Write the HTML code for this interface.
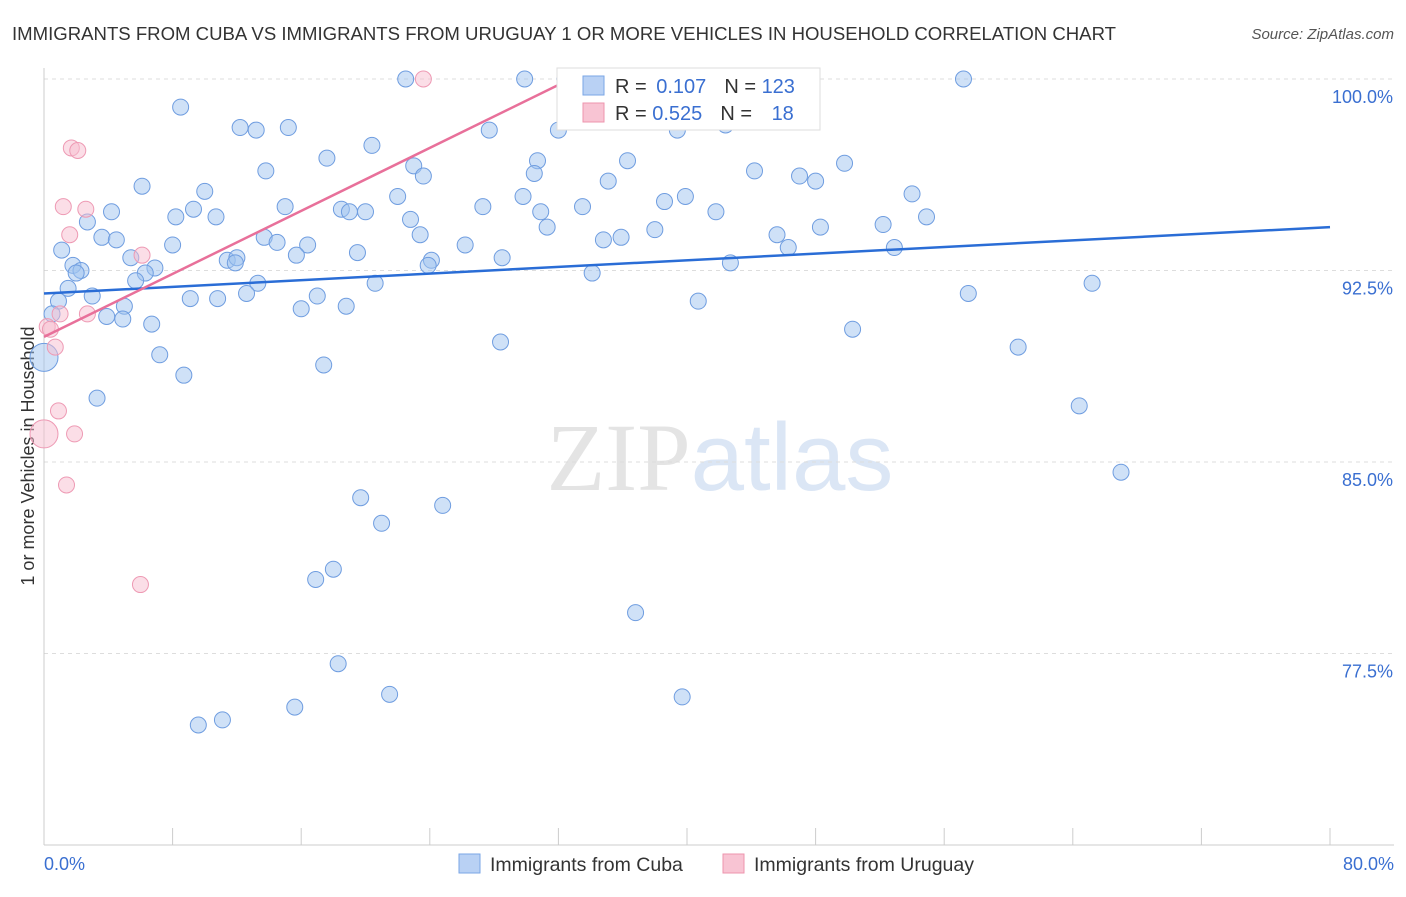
<!DOCTYPE html>
<html><head><meta charset="utf-8">
<style>
body{margin:0;background:#fff;font-family:"Liberation Sans",sans-serif;}
svg text{font-family:"Liberation Sans",sans-serif;}
</style></head>
<body>
<svg id="chart" width="1406" height="892" xmlns="http://www.w3.org/2000/svg">
<text x="12" y="40" font-size="18" fill="#333" textLength="1104" lengthAdjust="spacingAndGlyphs">IMMIGRANTS FROM CUBA VS IMMIGRANTS FROM URUGUAY 1 OR MORE VEHICLES IN HOUSEHOLD CORRELATION CHART</text>
<text x="1394" y="39" font-size="15" fill="#555" text-anchor="end" font-style="italic">Source: ZipAtlas.com</text>
<text x="720" y="490" font-size="96" text-anchor="middle"><tspan fill="#e4e4e4" font-family="Liberation Serif">ZIP</tspan><tspan fill="#dbe6f5">atlas</tspan></text>
<text transform="translate(34,456) rotate(-90)" font-size="18" fill="#333" text-anchor="middle">1 or more Vehicles in Household</text>
<g id="grid"></g><g id="axes"></g><g id="marks"></g>
<g>
<rect x="557" y="68" width="263" height="62" fill="#fff" stroke="#ddd"/>
<rect x="583" y="76" width="21" height="19" fill="#b9d1f4" stroke="#7aa6e6"/>
<rect x="583" y="103" width="21" height="19" fill="#f8c4d3" stroke="#ee94ae"/>
<text x="615" y="93" font-size="20" fill="#333">R = <tspan fill="#3a6fd1" dx="4">0.107</tspan><tspan dx="18" fill="#333">N = </tspan><tspan fill="#3a6fd1">123</tspan></text>
<text x="615" y="120" font-size="20" fill="#333">R = <tspan fill="#3a6fd1">0.525</tspan><tspan dx="18" fill="#333">N = </tspan><tspan fill="#3a6fd1" dx="14">18</tspan></text>
</g>
<g>
<rect x="459" y="854" width="21" height="19" fill="#b9d1f4" stroke="#7aa6e6"/>
<text x="490" y="871" font-size="19.5" fill="#333">Immigrants from Cuba</text>
<rect x="723" y="854" width="21" height="19" fill="#f8c4d3" stroke="#ee94ae"/>
<text x="754" y="871" font-size="19.5" fill="#333">Immigrants from Uruguay</text>
</g>
</svg>
<script>
const cubaX=[22.5,29.9,57.2,32.4,8.5,12.2,13.2,15.2,27.7,32.0,39.4,42.4,20.4,17.6,36.3,30.7,49.8,13.8,23.0,23.6,30.5,44.2,47.0,48.0,35.1,6.1,10.0,54.0,39.9,22.0,29.8,38.6,4.2,9.3,8.2,10.7,15.0,18.5,19.0,20.0,27.3,33.5,30.9,41.8,54.9,22.8,31.3,38.0,48.3,52.2,2.7,3.6,4.5,13.7,23.4,14.5,16.4,8.0,34.8,35.9,45.6,46.3,52.9,1.1,26.2,19.5,5.4,15.7,11.4,12.0,11.9,28.5,24.1,23.9,42.7,1.8,2.3,2.0,6.9,6.3,5.7,13.3,34.1,20.6,65.2,1.5,3.0,0.9,9.1,10.8,12.6,17.0,57.5,40.7,16.0,18.8,5.0,3.9,4.9,6.7,0.5,50.3,28.4,7.2,60.6,17.4,8.7,3.3,64.4,67.0,19.7,24.8,21.0,18.0,16.9,36.8,18.3,21.5,39.7,15.6,11.1,9.6,0];
const cubaY=[100,100,100,100,98.9,98.1,98.0,98.1,98.0,98.0,98.0,98.2,97.4,96.9,96.8,96.8,96.7,96.4,96.6,96.2,96.3,96.4,96.2,96.0,96.0,95.8,95.6,95.5,95.4,95.4,95.4,95.2,94.8,94.9,94.6,94.6,95.0,94.9,94.8,94.8,95.0,95.0,94.8,94.8,94.6,94.5,94.2,94.1,94.2,94.3,94.4,93.8,93.7,93.8,93.9,93.6,93.5,93.5,93.7,93.8,93.9,93.4,93.4,93.3,93.5,93.2,93.0,93.1,92.9,93.0,92.8,93.0,92.9,92.7,92.8,92.7,92.5,92.4,92.6,92.4,92.1,92.0,92.4,92.0,92.0,91.8,91.5,91.3,91.4,91.4,91.6,91.5,91.6,91.3,91.0,91.1,91.1,90.7,90.6,90.4,90.8,90.2,89.7,89.2,89.5,88.8,88.4,87.5,87.2,84.6,83.6,83.3,82.6,80.8,80.4,79.1,77.1,75.9,75.8,75.4,74.9,74.7,89.1];
const uruX=[23.6,35.2,1.7,2.1,1.2,2.6,1.6,6.1,0.2,0.4,1.0,2.7,0.7,0.9,1.9,0,1.4,6.0];
const uruY=[100,100,97.3,97.2,95.0,94.9,93.9,93.1,90.3,90.2,90.8,90.8,89.5,87.0,86.1,86.1,84.1,80.2];
const cubaTrendX=[0,80], cubaTrendY=[91.6,94.2];
const uruTrendX=[0,32.1], uruTrendY=[89.9,99.8];
const yTicks=[100,92.5,85,77.5], yTickLabels=["100.0%","92.5%","85.0%","77.5%"];
const xTickLabels=["0.0%","80.0%"];
const NS="http://www.w3.org/2000/svg";
const X=v=>44+v/80*1286, Y=v=>79+(100-v)/7.5*191.5;
function mk(tag,attrs,parent){const e=document.createElementNS(NS,tag);for(const k in attrs)e.setAttribute(k,attrs[k]);document.getElementById(parent).appendChild(e);return e;}
yTicks.forEach((t,i)=>{
 const l=mk('line',{x1:44,x2:1394,y1:Y(t),y2:Y(t),stroke:'#ddd','stroke-dasharray':'4,4'},'grid');
 
 
 const tx=mk('text',{x:1393,y:Y(t)+24,'font-size':18,fill:'#3a6fd1','text-anchor':'end'},'axes');
 tx.textContent=yTickLabels[i];
 
 
});
const ax=mk('line',{x1:44,x2:1394,y1:845,y2:845,stroke:'#ccc'},'axes');


const ay=mk('line',{x1:44,x2:44,y1:68,y2:845,stroke:'#ccc'},'axes');


for(let i=0;i<=10;i++){const t=mk('line',{x1:X(i*8),x2:X(i*8),y1:828,y2:845,stroke:'#ccc'},'axes');
 
 }
[[0,'start',44],[80,'end',1394]].forEach((d,i)=>{const t=mk('text',{x:d[2],y:870,'font-size':18,fill:'#3a6fd1','text-anchor':d[1]},'axes');t.textContent=xTickLabels[i];
 
 });
cubaX.forEach((x,i)=>{const r=(x===0)?14:8;const c=mk('circle',{cx:X(x),cy:Y(cubaY[i]),r:r,fill:'rgba(160,195,240,0.5)',stroke:'#6f9de0','stroke-width':1},'marks');
 
 });
uruX.forEach((x,i)=>{const r=(x===0&&i===15)?14:8;const c=mk('circle',{cx:X(x),cy:Y(uruY[i]),r:r,fill:'rgba(248,190,208,0.5)',stroke:'#ee9ab4','stroke-width':1},'marks');
 
 });
const l1=mk('line',{x1:X(cubaTrendX[0]),y1:Y(cubaTrendY[0]),x2:X(cubaTrendX[1]),y2:Y(cubaTrendY[1]),stroke:'#2a6dd6','stroke-width':2.5},'marks');


const l2=mk('line',{x1:X(uruTrendX[0]),y1:Y(uruTrendY[0]),x2:X(uruTrendX[1]),y2:Y(uruTrendY[1]),stroke:'#e8709a','stroke-width':2.5},'marks');


</script>
</body></html>
